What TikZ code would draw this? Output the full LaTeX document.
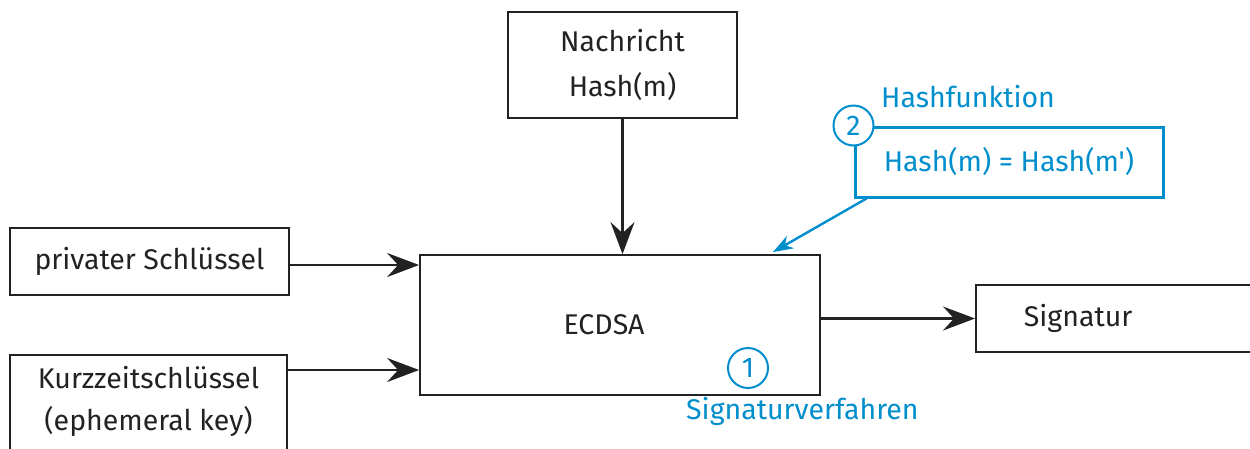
\documentclass[tikz,border=0pt]{standalone}
\usepackage{fontspec}
\setmainfont{Fira Sans}[Ligatures=TeXOff]
\usetikzlibrary{arrows.meta,calc}
\definecolor{bblue}{RGB}{0,142,204}
\definecolor{ink}{RGB}{34,34,34}
\begin{document}
\begin{tikzpicture}[x=1pt,y=-1pt,
  every node/.style={font=\fontsize{28.5}{45}\selectfont, text=ink},
  box/.style={draw=ink, line width=1.8pt, rectangle, inner sep=0pt},
  edge/.style={draw=ink, line width=1.8pt},
  arr/.style={draw=ink, line width=2.2pt, -{Stealth[length=32pt,width=24pt,inset=11pt]}},
  barr/.style={draw=bblue, line width=2.4pt, -{Stealth[length=20pt,width=14pt,inset=6pt]}},
  bnum/.style={circle, draw=bblue, line width=2pt, fill=white, minimum size=40pt, inner sep=0pt, text=bblue},
  blab/.style={text=bblue, inner sep=0pt}]
\useasboundingbox (0,0) rectangle (1250,448);
\node[box, minimum width=229pt, minimum height=106pt, align=center] (msg) at (622.5,65) {Nachricht\\Hash(m)};
\node[box, minimum width=400pt, minimum height=140pt] (ecdsa) at (620,325) {ECDSA\hspace*{32pt}};
\node[box, minimum width=279pt, minimum height=67pt] (priv) at (149.5,261.5) {privater Schlüssel};
\node[inner sep=0pt, minimum width=277pt, minimum height=92pt, align=center, font=\fontsize{28.5}{42}\selectfont] (kurz) at (148.5,401) {Kurzzeitschlüssel\\(ephemeral key)};
\draw[edge] ($(kurz.south west)+(0,20)$) -- (kurz.north west) -- (kurz.north east) -- ($(kurz.south east)+(0,20)$);
\node[box, anchor=west, minimum height=67pt, inner xsep=48pt, text width=250pt, align=left] (sig) at (975,318.5) {Signatur};
\node[box, draw=bblue, line width=3pt, minimum width=308pt, minimum height=70pt, text=bblue] (hash) at (1009,162) {Hash(m) = Hash(m')};
\node[bnum] (n2) at (hash.north west) {2};
\node[bnum] (n1) at (748,368) {1};
\node[blab, anchor=west] (hl) at (881,97) {Hashfunktion};
\node[blab, anchor=west] (sl) at (686,411) {Signaturverfahren};
\draw[arr] (msg.south) -- (ecdsa.north -| msg.south);
\draw[arr] (priv.east |- 0,265) -- (ecdsa.west |- 0,265);
\draw[arr] (kurz.east |- 0,370) -- (ecdsa.west |- 0,370);
\draw[arr] (ecdsa.east |- 0,318.5) -- (sig.west);
\draw[barr] ($(hash.south west)+(13,0)$) -- ($(ecdsa.north east)+(-48,-2)$);
\end{tikzpicture}
\end{document}
